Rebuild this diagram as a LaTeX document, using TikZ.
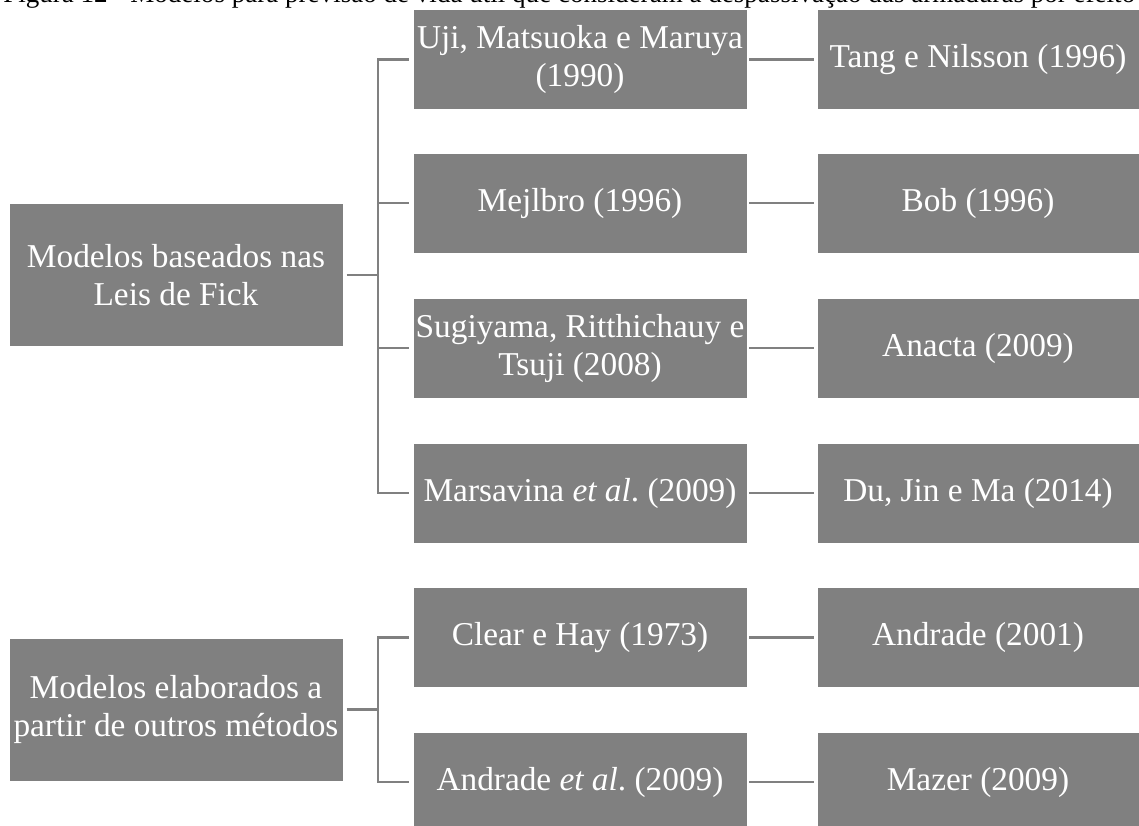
\documentclass[tikz,border=0pt]{standalone}
\usepackage{fontspec}
\setmainfont{Liberation Serif}

\begin{document}
\begin{tikzpicture}[x=0.75pt, y=-0.75pt,
    root/.style={fill=gray, draw=white, thin, text=white, align=center,
        minimum width=250.5pt, minimum height=107pt, inner sep=0pt,
        font=\fontsize{25}{28.5}\selectfont},
    leaf/.style={root, minimum height=75pt},
    link/.style={gray, line width=1.6pt}]
    \useasboundingbox (0,0) rectangle (1139,825);

    % caption (cut by the page)
    \node[anchor=base west, inner sep=0pt, font=\fontsize{20.3}{24}\selectfont] (caption) at (3,2.5)
        {Figura 12 - Modelos para previsão de vida útil que consideram a despassivação das armaduras por efeito};

    % roots
    \node[root] (fick) at (176,275) {Modelos baseados nas\\Leis de Fick};
    \node[root] (outros) at (176,709.5) {Modelos elaborados a\\partir de outros métodos};

    % middle column
    \node[leaf] (uji) at (580,59.5) {Uji, Matsuoka e Maruya\\(1990)};
    \node[leaf] (mejlbro) at (580,203) {Mejlbro (1996)};
    \node[leaf] (sugiyama) at (580,348) {Sugiyama, Ritthichauy e\\Tsuji (2008)};
    \node[leaf] (marsavina) at (580,493) {Marsavina \textit{et al}.\ (2009)};
    \node[leaf] (clear) at (580,637.5) {Clear e Hay (1973)};
    \node[leaf] (andradeal) at (580,782) {Andrade \textit{et al}.\ (2009)};

    % right column
    \node[leaf, minimum width=241.5pt] (tang) at (978,59.5) {Tang e Nilsson (1996)};
    \node[leaf, minimum width=241.5pt] (bob) at (978,203) {Bob (1996)};
    \node[leaf, minimum width=241.5pt] (anacta) at (978,348) {Anacta (2009)};
    \node[leaf, minimum width=241.5pt] (du) at (978,493) {Du, Jin e Ma (2014)};
    \node[leaf, minimum width=241.5pt] (andrade) at (978,637.5) {Andrade (2001)};
    \node[leaf, minimum width=241.5pt] (mazer) at (978,782) {Mazer (2009)};

    % brackets
    \coordinate (fork1) at (378,275);
    \coordinate (fork2) at (378,709.5);

    \draw[link, shorten <=2.5pt] (fick) -- (fork1);
    \draw[link, shorten >=2.5pt] (fork1) |- (uji);
    \draw[link, shorten >=2.5pt] (fork1) |- (mejlbro);
    \draw[link, shorten >=2.5pt] (fork1) |- (sugiyama);
    \draw[link, shorten >=2.5pt] (fork1) |- (marsavina);

    \draw[link, shorten <=2.5pt] (outros) -- (fork2);
    \draw[link, shorten >=2.5pt] (fork2) |- (clear);
    \draw[link, shorten >=2.5pt] (fork2) |- (andradeal);

    % pairs
    \draw[link, shorten <=1.5pt, shorten >=2pt] (uji) -- (tang);
    \draw[link, shorten <=1.5pt, shorten >=2pt] (mejlbro) -- (bob);
    \draw[link, shorten <=1.5pt, shorten >=2pt] (sugiyama) -- (anacta);
    \draw[link, shorten <=1.5pt, shorten >=2pt] (marsavina) -- (du);
    \draw[link, shorten <=1.5pt, shorten >=2pt] (clear) -- (andrade);
    \draw[link, shorten <=1.5pt, shorten >=2pt] (andradeal) -- (mazer);

\end{tikzpicture}
\end{document}
